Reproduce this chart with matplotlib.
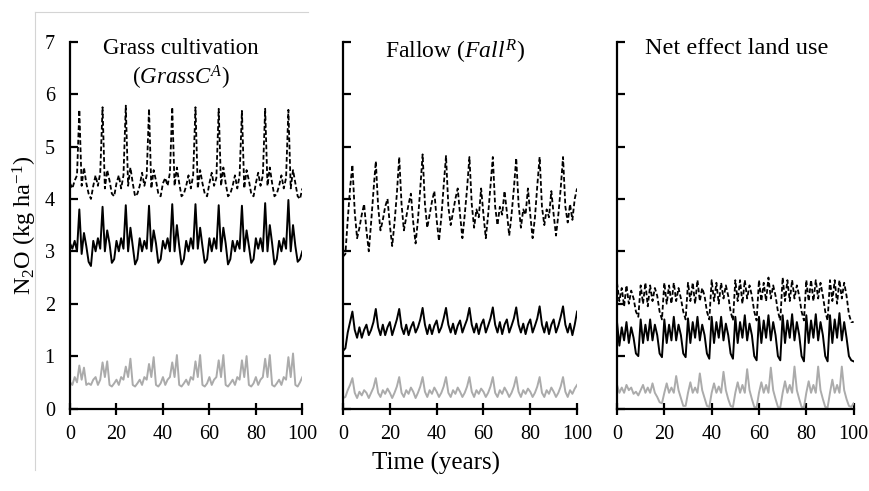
import matplotlib
matplotlib.use("Agg")
import matplotlib.pyplot as plt
from matplotlib.lines import Line2D

plt.rcParams['font.family'] = ['Liberation Serif', 'DejaVu Serif']
plt.rcParams['mathtext.fontset'] = 'custom'
plt.rcParams['mathtext.rm'] = 'Liberation Serif'
plt.rcParams['mathtext.it'] = 'Liberation Serif:italic'

years = list(range(0, 101))

# Grass cultivation (GrassC^A)
grass_dashed = [
    4.30, 4.20, 4.35, 4.45, 5.70, 4.25, 4.60, 4.30, 4.10, 4.00,
    4.25, 4.45, 4.25, 4.50, 5.75, 4.20, 4.55, 4.35, 4.10, 4.05,
    4.30, 4.45, 4.20, 4.45, 5.78, 4.25, 4.60, 4.30, 4.05, 4.10,
    4.25, 4.50, 4.25, 4.45, 5.72, 4.20, 4.55, 4.35, 4.10, 4.05,
    4.30, 4.40, 4.25, 4.50, 5.75, 4.25, 4.60, 4.30, 4.05, 4.10,
    4.25, 4.45, 4.20, 4.45, 5.75, 4.20, 4.55, 4.30, 4.10, 4.05,
    4.30, 4.50, 4.25, 4.40, 5.72, 4.25, 4.60, 4.30, 4.05, 4.10,
    4.25, 4.45, 4.20, 4.45, 5.68, 4.20, 4.55, 4.35, 4.10, 4.05,
    4.30, 4.50, 4.25, 4.45, 5.72, 4.25, 4.60, 4.30, 4.05, 4.10,
    4.25, 4.45, 4.20, 4.40, 5.70, 4.20, 4.55, 4.30, 4.05, 4.00,
    4.20]
grass_solid = [
    3.15, 3.05, 3.20, 3.00, 3.80, 2.95, 3.35, 3.10, 2.80, 2.72,
    3.20, 3.00, 3.25, 3.05, 3.85, 3.00, 3.40, 3.15, 2.78, 2.85,
    3.20, 3.00, 3.25, 3.05, 3.88, 3.00, 3.45, 3.10, 2.75, 2.85,
    3.25, 3.00, 3.20, 3.05, 3.87, 3.00, 3.40, 3.15, 2.78, 2.85,
    3.20, 3.05, 3.25, 3.00, 3.90, 3.00, 3.50, 3.10, 2.75, 2.85,
    3.20, 3.00, 3.25, 3.05, 3.90, 3.05, 3.45, 3.10, 2.78, 2.85,
    3.25, 3.00, 3.25, 3.05, 3.88, 3.00, 3.45, 3.15, 2.75, 2.85,
    3.20, 3.00, 3.20, 3.05, 3.87, 3.00, 3.40, 3.10, 2.78, 2.85,
    3.25, 3.05, 3.25, 3.00, 3.92, 3.00, 3.50, 3.15, 2.75, 2.85,
    3.20, 3.00, 3.25, 3.05, 3.98, 3.00, 3.50, 3.10, 2.80, 2.85,
    3.00]
grass_gray = [
    0.50, 0.45, 0.60, 0.50, 0.82, 0.55, 0.78, 0.45, 0.48, 0.45,
    0.55, 0.60, 0.45, 0.55, 0.88, 0.60, 0.90, 0.45, 0.42, 0.48,
    0.55, 0.45, 0.60, 0.55, 0.80, 0.60, 0.95, 0.45, 0.42, 0.48,
    0.55, 0.45, 0.60, 0.55, 0.85, 0.60, 0.98, 0.45, 0.42, 0.48,
    0.60, 0.45, 0.55, 0.60, 0.88, 0.60, 1.02, 0.45, 0.42, 0.48,
    0.55, 0.45, 0.60, 0.55, 0.90, 0.60, 1.02, 0.45, 0.42, 0.48,
    0.60, 0.45, 0.55, 0.60, 0.92, 0.60, 1.02, 0.45, 0.42, 0.48,
    0.55, 0.45, 0.60, 0.55, 0.92, 0.60, 1.00, 0.45, 0.42, 0.48,
    0.60, 0.45, 0.55, 0.60, 0.95, 0.60, 1.02, 0.45, 0.42, 0.48,
    0.55, 0.45, 0.60, 0.55, 0.98, 0.60, 1.05, 0.45, 0.42, 0.50,
    0.60]

# Fallow (Fall^R)
fallow_dashed = [
    2.90, 2.95, 3.60, 4.20, 4.65, 3.75, 3.25, 3.45, 3.70, 3.90,
    3.40, 3.00, 3.55, 4.15, 4.72, 3.85, 3.40, 3.60, 3.85, 4.00,
    3.50, 3.10, 3.55, 4.10, 4.80, 3.90, 3.40, 3.65, 3.90, 4.10,
    3.55, 3.15, 3.60, 4.20, 4.85, 3.90, 3.45, 3.70, 3.95, 4.15,
    3.60, 3.20, 3.65, 4.25, 4.82, 3.85, 3.50, 3.75, 4.00, 4.20,
    3.70, 3.25, 3.70, 4.20, 4.80, 3.90, 3.45, 3.80, 3.65, 4.20,
    3.70, 3.25, 3.70, 4.25, 4.80, 3.85, 3.50, 3.85, 3.70, 4.15,
    3.75, 3.30, 3.70, 4.20, 4.78, 3.90, 3.45, 3.80, 3.70, 4.20,
    3.70, 3.25, 3.65, 4.25, 4.80, 3.85, 3.50, 3.80, 3.65, 4.15,
    3.70, 3.30, 3.70, 4.20, 4.80, 3.85, 3.55, 3.90, 3.60, 4.00,
    4.20]
fallow_solid = [
    1.10, 1.15, 1.45, 1.65, 1.85, 1.50, 1.35, 1.55, 1.35, 1.50,
    1.60, 1.40, 1.50, 1.65, 1.90, 1.55, 1.40, 1.60, 1.40, 1.55,
    1.65, 1.40, 1.55, 1.70, 1.90, 1.55, 1.42, 1.60, 1.40, 1.55,
    1.65, 1.45, 1.55, 1.70, 1.92, 1.60, 1.42, 1.60, 1.42, 1.58,
    1.68, 1.45, 1.55, 1.72, 1.92, 1.60, 1.45, 1.62, 1.42, 1.58,
    1.68, 1.45, 1.58, 1.70, 1.92, 1.60, 1.45, 1.62, 1.42, 1.60,
    1.70, 1.45, 1.58, 1.72, 1.93, 1.60, 1.45, 1.65, 1.42, 1.60,
    1.70, 1.45, 1.58, 1.72, 1.93, 1.60, 1.45, 1.62, 1.42, 1.60,
    1.70, 1.45, 1.58, 1.72, 1.95, 1.60, 1.45, 1.65, 1.42, 1.60,
    1.70, 1.45, 1.58, 1.75, 1.95, 1.60, 1.45, 1.62, 1.40, 1.60,
    1.85]
fallow_gray = [
    0.20, 0.22, 0.35, 0.45, 0.58, 0.30, 0.20, 0.32, 0.25, 0.35,
    0.30, 0.20, 0.30, 0.40, 0.58, 0.30, 0.22, 0.35, 0.28, 0.38,
    0.30, 0.20, 0.30, 0.42, 0.60, 0.30, 0.22, 0.35, 0.28, 0.40,
    0.32, 0.20, 0.30, 0.42, 0.60, 0.32, 0.22, 0.35, 0.28, 0.40,
    0.32, 0.22, 0.30, 0.42, 0.60, 0.30, 0.22, 0.35, 0.28, 0.40,
    0.32, 0.22, 0.30, 0.42, 0.60, 0.32, 0.22, 0.35, 0.28, 0.38,
    0.32, 0.22, 0.30, 0.42, 0.60, 0.30, 0.22, 0.35, 0.28, 0.40,
    0.32, 0.22, 0.30, 0.42, 0.60, 0.32, 0.22, 0.35, 0.28, 0.38,
    0.32, 0.22, 0.30, 0.42, 0.60, 0.30, 0.22, 0.35, 0.28, 0.40,
    0.32, 0.22, 0.30, 0.42, 0.60, 0.32, 0.22, 0.35, 0.28, 0.38,
    0.45]

# Net effect land use
net_dashed = [
    2.40, 2.05, 2.30, 1.95, 2.35, 2.00, 2.25, 2.10, 1.85, 1.75,
    2.35, 2.00, 2.40, 1.95, 2.35, 2.05, 2.30, 2.15, 1.85, 1.70,
    2.40, 2.00, 2.35, 2.00, 2.40, 2.05, 2.30, 2.10, 1.85, 1.70,
    2.40, 2.05, 2.40, 2.00, 2.45, 2.05, 2.30, 2.15, 1.85, 1.70,
    2.45, 2.05, 2.40, 2.00, 2.40, 2.10, 2.35, 2.15, 1.85, 1.68,
    2.45, 2.05, 2.45, 2.00, 2.45, 2.10, 2.35, 2.15, 1.85, 1.68,
    2.45, 2.05, 2.40, 2.05, 2.50, 2.10, 2.35, 2.15, 1.85, 1.68,
    2.50, 2.05, 2.45, 2.05, 2.45, 2.10, 2.35, 2.15, 1.85, 1.68,
    2.45, 2.05, 2.45, 2.05, 2.45, 2.10, 2.40, 2.15, 1.85, 1.68,
    2.45, 2.05, 2.45, 2.00, 2.45, 2.10, 2.40, 2.15, 1.80, 1.65,
    1.65]
net_solid = [
    1.65, 1.20, 1.55, 1.30, 1.65, 1.25, 1.55, 1.35, 1.05, 1.00,
    1.70, 1.25, 1.60, 1.30, 1.70, 1.30, 1.60, 1.40, 1.05, 0.98,
    1.70, 1.25, 1.60, 1.30, 1.75, 1.30, 1.60, 1.40, 1.05, 0.98,
    1.72, 1.25, 1.65, 1.35, 1.75, 1.30, 1.60, 1.40, 1.05, 0.95,
    1.75, 1.25, 1.65, 1.35, 1.75, 1.30, 1.62, 1.40, 1.05, 0.95,
    1.75, 1.25, 1.65, 1.35, 1.78, 1.30, 1.62, 1.40, 1.00, 0.92,
    1.75, 1.25, 1.68, 1.35, 1.78, 1.30, 1.65, 1.40, 1.00, 0.92,
    1.78, 1.25, 1.68, 1.35, 1.80, 1.30, 1.65, 1.40, 1.00, 0.90,
    1.78, 1.25, 1.68, 1.35, 1.80, 1.30, 1.65, 1.40, 1.00, 0.90,
    1.78, 1.25, 1.70, 1.35, 1.82, 1.30, 1.65, 1.35, 1.00, 0.92,
    0.90]
net_gray = [
    0.45, 0.30, 0.40, 0.30, 0.45, 0.35, 0.40, 0.28, 0.32, 0.25,
    0.35, 0.45, 0.30, 0.40, 0.30, 0.48, 0.30, 0.22, 0.12, 0.10,
    0.30, 0.48, 0.30, 0.40, 0.30, 0.62, 0.35, 0.20, 0.05, 0.05,
    0.30, 0.50, 0.30, 0.40, 0.30, 0.67, 0.35, 0.20, 0.05, 0.03,
    0.30, 0.48, 0.30, 0.42, 0.30, 0.70, 0.35, 0.18, 0.05, 0.03,
    0.30, 0.50, 0.30, 0.45, 0.30, 0.75, 0.35, 0.18, 0.03, 0.02,
    0.30, 0.50, 0.30, 0.45, 0.30, 0.78, 0.35, 0.18, 0.03, 0.02,
    0.30, 0.52, 0.30, 0.45, 0.30, 0.80, 0.35, 0.18, 0.03, 0.02,
    0.30, 0.52, 0.30, 0.45, 0.30, 0.80, 0.35, 0.18, 0.03, 0.02,
    0.30, 0.55, 0.30, 0.45, 0.30, 0.80, 0.35, 0.18, 0.05, 0.03,
    0.10]

titles = ['Grass cultivation\n($\\mathit{GrassC}^{A}$)',
          'Fallow ($\\mathit{Fall}^{R}$)',
          'Net effect land use']
title_sizes = [16.5, 17, 17.5]
title_x = [0.478, 0.48, 0.504]
x_ticks = [0, 20, 40, 60, 80, 100]
y_ticks = [0, 1, 2, 3, 4, 5, 6, 7]


def draw_panel(ax, title, tsize, tx, dashed, solid, gray, show_ylabels):
    ax.plot(years, dashed, color='black', lw=1.3, dashes=(2.6, 1.4))
    ax.plot(years, solid, color='black', lw=1.4)
    ax.plot(years, gray, color='#ababab', lw=1.4)
    ax.set_xlim(0, 100)
    ax.set_ylim(0, 7)
    ax.set_xticks(x_ticks)
    ax.set_yticks(y_ticks)
    for s in ['top', 'right']:
        ax.spines[s].set_visible(False)
    for s in ['left', 'bottom']:
        ax.spines[s].set_linewidth(1.6)
    ax.tick_params(axis='y', direction='in', length=6, width=1.6, pad=11, labelsize=14.5)
    ax.tick_params(axis='x', direction='inout', length=8, width=1.6, pad=8, labelsize=14.5)
    if not show_ylabels:
        ax.set_yticklabels([])
    ax.text(tx, 1.011, title, transform=ax.transAxes, ha='center', va='top',
            fontsize=tsize, linespacing=1.25)


fig = plt.figure(figsize=(8.7, 4.91), dpi=100)
lefts = [0.0805, 0.3943, 0.7092]
widths = [0.267, 0.269, 0.272]
series = [(grass_dashed, grass_solid, grass_gray),
          (fallow_dashed, fallow_solid, fallow_gray),
          (net_dashed, net_solid, net_gray)]
axes = []
for i in range(3):
    ax = fig.add_axes([lefts[i], 0.168, widths[i], 0.747])
    draw_panel(ax, titles[i], title_sizes[i], title_x[i], *series[i],
               show_ylabels=(i == 0))
    axes.append(ax)

axes[0].set_ylabel('N$_2$O (kg ha$^{-1}$)', fontsize=17.5, labelpad=4)
fig.text(0.501, 0.057, 'Time (years)', ha='center', va='center', fontsize=18)

# light frame lines of the original figure border
fig.add_artist(Line2D([0.040, 0.354], [0.976, 0.976], color='#d4d4d4', lw=0.8))
fig.add_artist(Line2D([0.040, 0.040], [0.976, 0.043], color='#d4d4d4', lw=0.8))

fig.savefig('out.png', dpi=100)
